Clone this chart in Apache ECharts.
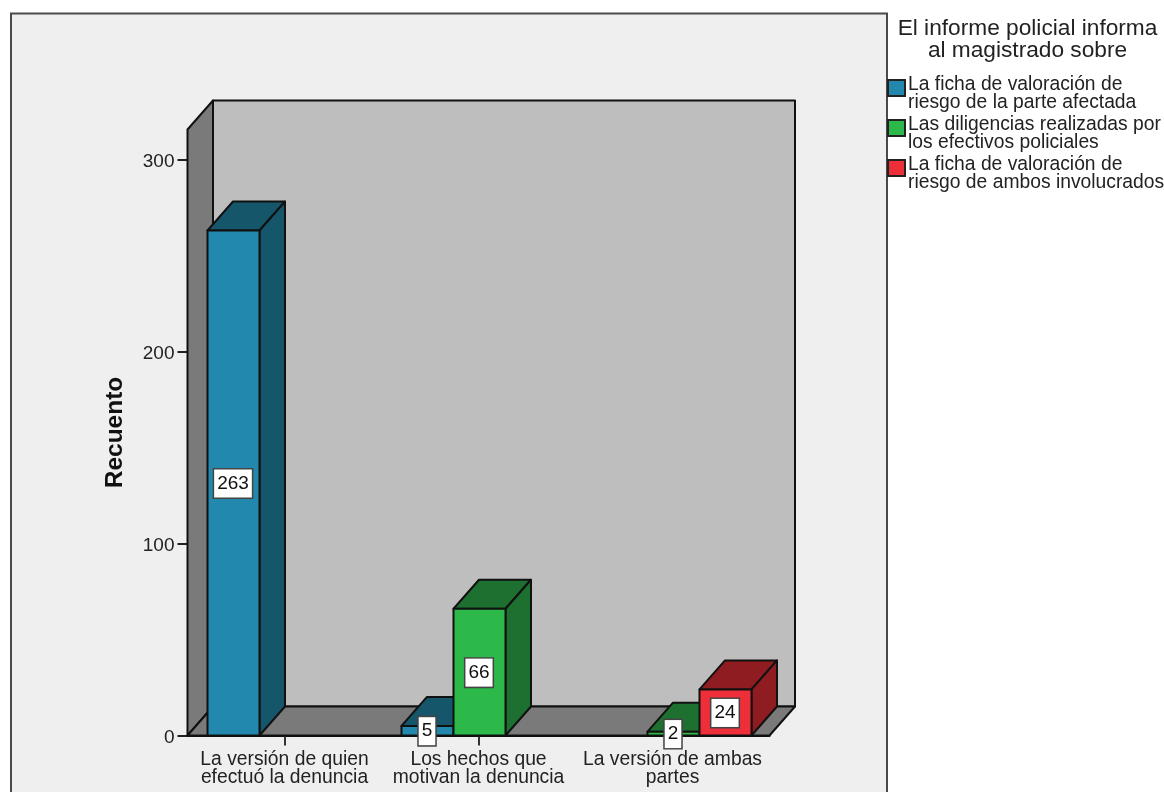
<!DOCTYPE html>
<html><head><meta charset="utf-8">
<style>html,body{margin:0;padding:0;background:#fff}#c{width:1164px;height:792px}</style>
<script src="https://cdn.jsdelivr.net/npm/echarts@6/dist/echarts.min.js"></script>
</head><body><div id="c"></div>
<script>
const categories = ['La versión de quien\nefectuó la denuncia','Los hechos que\nmotivan la denuncia','La versión de ambas\npartes'];
const seriesNames = ['La ficha de valoración de\nriesgo de la parte afectada','Las diligencias realizadas por\nlos efectivos policiales','La ficha de valoración de\nriesgo de ambos involucrados'];
const fichaParte = [263,5,null];
const diligencias = [null,66,2];
const fichaAmbos = [null,null,24];
const yTicks = [0,100,200,300];
const legendTitle = 'El informe policial informa\nal magistrado sobre';
const axisTitle = 'Recuento';

const DX=25.5, DY=-29, SLOT=52;
const EDGE='#111';
const FONT='"Liberation Sans", Arial, sans-serif';
const chart = echarts.init(document.getElementById('c'));

function poly(points, fill, z2){
  return {type:'polygon', z2:z2||0, shape:{points}, style:{fill, stroke:EDGE, lineWidth:2, lineJoin:'round'}};
}
function renderWalls(params, api){
  const g=params.coordSys, l=g.x, r=g.x+g.width, t=g.y, b=g.y+g.height;
  const bk=p=>[p[0]+DX,p[1]+DY];
  return {type:'group', children:[
    poly([bk([l,t]),bk([r,t]),bk([r,b]),bk([l,b])],'#bebebe'),
    poly([[l,t],bk([l,t]),bk([l,b]),[l,b]],'#7a7a7a'),
    poly([[l,b],[r,b],bk([r,b]),bk([l,b])],'#7a7a7a')
  ]};
}
function barSeries(name, values, slot, front, dark){
  return {
    type:'custom', name, coordinateSystem:'cartesian2d', z:3+slot,
    itemStyle:{color:front, borderColor:'#222', borderWidth:1.5},
    encode:{x:0,y:1},
    data:values.map((v,i)=>[i,v]),
    renderItem(params, api){
      const v=api.value(1);
      if(v===null||isNaN(v)) return null;
      const top=api.coord([api.value(0),v]), base=api.coord([api.value(0),0]);
      const x0=top[0]+(slot-1)*SLOT+1-SLOT/2, x1=x0+SLOT, yT=top[1], yB=base[1];
      return {type:'group', children:[
        poly([[x0,yT],[x1,yT],[x1+DX,yT+DY],[x0+DX,yT+DY]],dark),
        poly([[x1,yT],[x1+DX,yT+DY],[x1+DX,yB+DY],[x1,yB]],dark),
        poly([[x0,yT],[x1,yT],[x1,yB],[x0,yB]],front)
      ]};
    }
  };
}
function labelSeries(name, values, slot){
  return {
    type:'custom', coordinateSystem:'cartesian2d', z:10, silent:true,
    data:values.map((v,i)=>[i,v]), encode:{x:0,y:1},
    renderItem(params, api){
      const v=api.value(1);
      if(v===null||isNaN(v)) return null;
      const top=api.coord([api.value(0),v]), base=api.coord([api.value(0),0]);
      return {type:'text', style:{
        text:String(v), x:top[0]+(slot-1)*SLOT+0.5, y:(top[1]+base[1])/2+0.5,
        align:'center', verticalAlign:'middle',
        font:'19px '+FONT, fill:'#111', backgroundColor:'#fff',
        borderColor:'#444', borderWidth:1.5, padding:[5,3,4,3]
      }};
    }
  };
}
chart.setOption({
  animation:false,
  backgroundColor:'#fff',
  graphic:[{type:'rect', z:-10, silent:true, shape:{x:11,y:13.5,width:876,height:800},
    style:{fill:'#efefef',stroke:'#4a4a4a',lineWidth:2}}],
  title:{text:legendTitle, left:1022.5, top:12.5, textAlign:'center',
    textStyle:{fontFamily:FONT,fontSize:22.7,fontWeight:'normal',color:'#222',lineHeight:22}},
  legend:{orient:'vertical', left:887, top:75.5, itemWidth:17, itemHeight:16, itemGap:3, padding:0, icon:'rect',
    selectedMode:false, align:'left', data:seriesNames,
    formatter:n=>'{t|'+n+'}',
    textStyle:{padding:[12,0,0,-2],
      rich:{t:{fontFamily:FONT,fontSize:19.3,color:'#222',lineHeight:18}}}},
  grid:{left:187.5, top:129.5, width:582, height:606},
  xAxis:{type:'category', data:categories,
    axisLine:{show:true,lineStyle:{color:EDGE,width:2}},
    axisTick:{show:true,alignWithLabel:true,length:10,lineStyle:{color:'#333',width:2}},
    axisLabel:{interval:0,margin:15,fontFamily:FONT,fontSize:19.3,color:'#222',lineHeight:18}},
  yAxis:{type:'value', min:0, max:315.6, name:axisTitle, nameLocation:'middle', nameGap:60,
    nameTextStyle:{fontFamily:FONT,fontSize:24.5,fontWeight:'bold',color:'#111'},
    splitLine:{show:false},
    axisLine:{show:true,lineStyle:{color:EDGE,width:2}},
    axisTick:{show:true,length:10,customValues:yTicks,lineStyle:{color:'#222',width:2}},
    axisLabel:{customValues:yTicks,margin:13,fontFamily:FONT,fontSize:19,color:'#222',verticalAlign:'top',padding:[-7,0,0,0]}},
  series:[
    {type:'custom',coordinateSystem:'cartesian2d',z:1,silent:true,renderItem:renderWalls,data:[[0,0]],encode:{x:0,y:1}},
    barSeries(seriesNames[0],fichaParte,0,'#2388ad','#15566b'),
    barSeries(seriesNames[1],diligencias,1,'#2db84a','#1d7030'),
    barSeries(seriesNames[2],fichaAmbos,2,'#ee2f3a','#8f1c20'),
    labelSeries('l0',fichaParte,0),
    labelSeries('l1',diligencias,1),
    labelSeries('l2',fichaAmbos,2)
  ]
});
</script></body></html>
